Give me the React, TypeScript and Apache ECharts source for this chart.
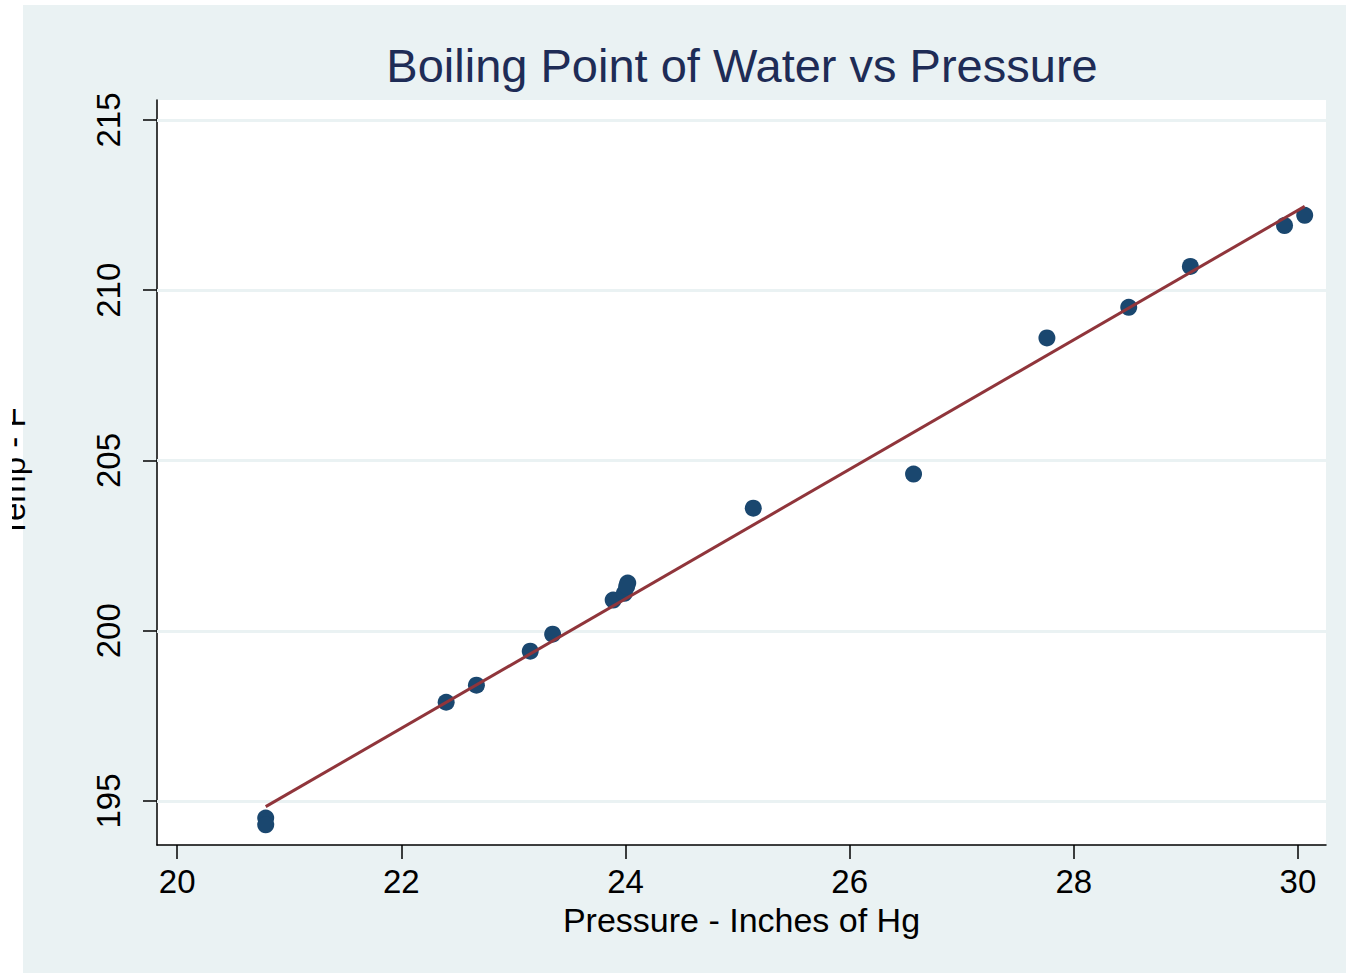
import React, { useEffect, useRef } from "react";
import * as echarts from "echarts";

// Forbes' boiling point measurements
const pressure = [20.79, 20.79, 22.4, 22.67, 23.15, 23.35, 23.89, 23.99, 24.02, 24.01, 25.14, 26.57, 28.49, 27.76, 29.04, 29.88, 30.06];
const temperature = [194.5, 194.3, 197.9, 198.4, 199.4, 199.9, 200.9, 201.1, 201.4, 201.3, 203.6, 204.6, 209.5, 208.6, 210.7, 211.9, 212.2];

const xTicks = [20, 22, 24, 26, 28, 30];
const yTicks = [195, 200, 205, 210, 215];

const titleText = "Boiling Point of Water vs Pressure";
const xTitle = "Pressure - Inches of Hg";
const yTitle = "Temp - F";

// Least-squares fit of temperature on pressure
function fitLine(xs: number[], ys: number[]) {
  const n = xs.length;
  const mx = xs.reduce((a, b) => a + b, 0) / n;
  const my = ys.reduce((a, b) => a + b, 0) / n;
  let sxy = 0;
  let sxx = 0;
  for (let i = 0; i < n; i++) {
    sxy += (xs[i] - mx) * (ys[i] - my);
    sxx += (xs[i] - mx) * (xs[i] - mx);
  }
  const slope = sxy / sxx;
  const intercept = my - slope * mx;
  const x0 = Math.min(...xs);
  const x1 = Math.max(...xs);
  return [
    [x0, intercept + slope * x0],
    [x1, intercept + slope * x1],
  ];
}

const BG = "#eaf2f3";
const NAVY = "#1a476f";
const MAROON = "#90353b";

export default function App() {
  const ref = useRef<HTMLDivElement>(null);

  useEffect(() => {
    document.body.style.margin = "0";
    const chart = echarts.init(ref.current!, undefined, { renderer: "svg" });
    const font = "'Liberation Sans', Arial, sans-serif";

    chart.setOption({
      animation: false,
      backgroundColor: "#ffffff",
      graphic: [
        {
          type: "rect",
          z: -10,
          silent: true,
          shape: { x: 23, y: 5, width: 1323, height: 968 },
          style: { fill: BG },
        },
        {
          type: "rect",
          z: 100,
          silent: true,
          shape: { x: 0, y: 300, width: 12, height: 350 },
          style: { fill: "#ffffff" },
        },
      ],
      title: {
        text: titleText,
        left: 742,
        top: 42,
        padding: 0,
        textAlign: "center",
        textStyle: {
          fontFamily: font,
          fontSize: 47,
          fontWeight: "normal",
          color: "#1e2c56",
        },
      },
      grid: {
        left: 157,
        top: 100,
        right: 20,
        bottom: 128,
        outerBoundsMode: "none",
        containLabel: false,
        show: true,
        backgroundColor: "#ffffff",
        borderWidth: 0,
      },
      xAxis: {
        type: "value",
        min: 19.82,
        max: 30.25,
        name: xTitle,
        nameLocation: "middle",
        nameGap: 51,
        nameTextStyle: { fontFamily: font, fontSize: 34, color: "#000" },
        axisLine: { show: true, onZero: false, lineStyle: { color: "#000", width: 1.5 } },
        axisTick: { show: true, length: 14, lineStyle: { color: "#000", width: 1.5 }, customValues: xTicks },
        axisLabel: { fontFamily: font, fontSize: 33, color: "#000", margin: 20, customValues: xTicks },
        splitLine: { show: false },
      },
      yAxis: {
        type: "value",
        min: 193.708,
        max: 215.587,
        name: yTitle,
        nameLocation: "middle",
        nameGap: 127,
        nameTextStyle: { fontFamily: font, fontSize: 33, color: "#000" },
        axisLine: { show: true, onZero: false, lineStyle: { color: "#000", width: 1.5 } },
        axisTick: { show: true, length: 14, lineStyle: { color: "#000", width: 1.5 }, customValues: yTicks },
        axisLabel: { fontFamily: font, fontSize: 33, color: "#000", margin: 32, rotate: 90, customValues: yTicks },
        splitLine: { show: false },
      },
      series: [
        {
          name: "grid",
          type: "scatter",
          data: [],
          z: 1,
          silent: true,
          markLine: {
            silent: true,
            z: 1,
            symbol: "none",
            label: { show: false },
            lineStyle: { color: BG, width: 3, type: "solid" },
            data: yTicks.map((v) => ({ yAxis: v })),
          },
        },
        {
          name: "Temp",
          type: "scatter",
          z: 10,
          symbol: "circle",
          symbolSize: 17,
          itemStyle: { color: NAVY, opacity: 1 },
          data: pressure.map((p, i) => [p, temperature[i]]),
        },
        {
          name: "Fit",
          type: "line",
          z: 11,
          symbol: "none",
          lineStyle: { color: MAROON, width: 3 },
          data: fitLine(pressure, temperature),
        },
      ],
    });

    return () => chart.dispose();
  }, []);

  return <div ref={ref} style={{ width: 1346, height: 973 }} />;
}
